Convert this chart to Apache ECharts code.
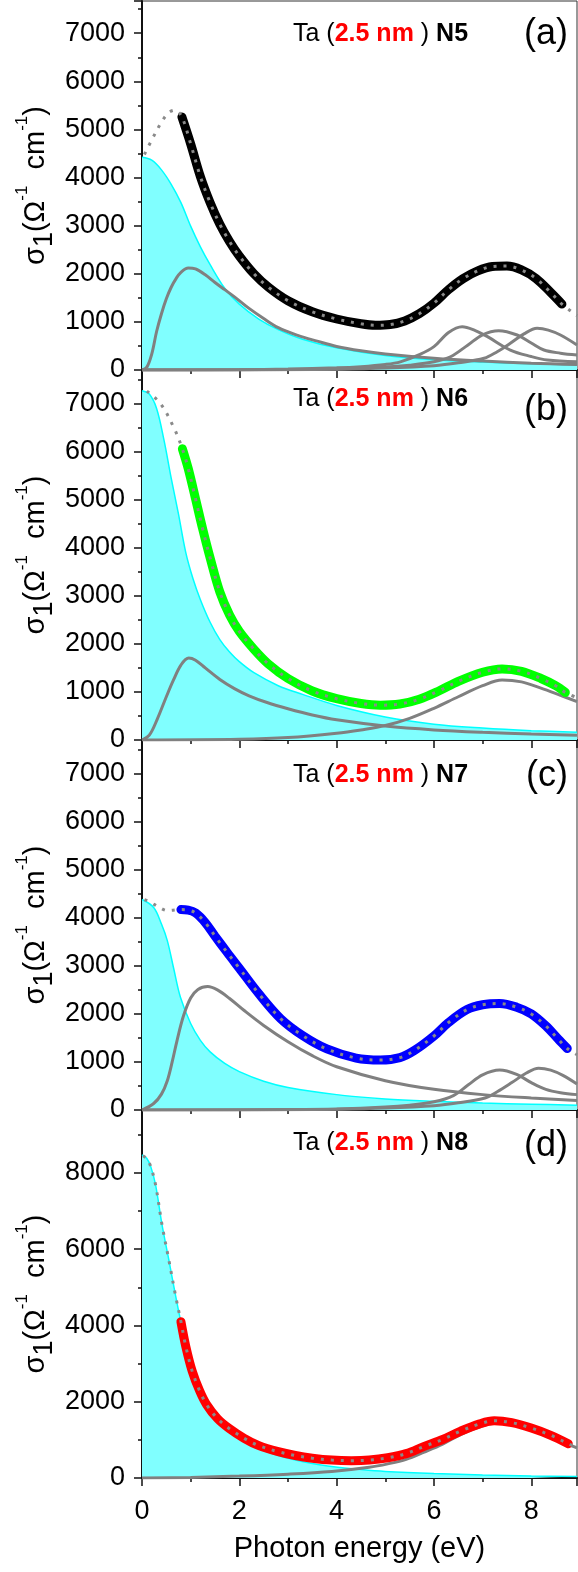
<!DOCTYPE html>
<html><head><meta charset="utf-8">
<script src="https://cdn.jsdelivr.net/npm/echarts@6/dist/echarts.min.js"></script>
<style>html,body{margin:0;padding:0;background:#fff}#c{width:578px;height:1572px}</style>
</head><body><div id="c"></div>
<script>
// ---------- Panel (a) N5 ----------
const aDrudeE = [0, 0.2, 0.4, 0.6, 0.8, 1.0, 1.2, 1.4, 1.7, 2.0, 2.4, 2.8, 3.3, 4, 5, 6, 7, 8, 8.94];
const aDrudeV = [4420, 4360, 4160, 3860, 3480, 2990, 2560, 2190, 1700, 1370, 1060, 840, 640, 460, 300, 215, 165, 130, 110];
const aL1E = [0, 0.1, 0.2, 0.3, 0.4, 0.5, 0.6, 0.7, 0.8, 0.95, 1.1, 1.3, 1.5, 1.7, 1.9, 2.2, 2.5, 2.8, 3.2, 3.6, 4, 4.5, 5, 6, 7, 8, 8.94];
const aL1V = [0, 60, 330, 800, 1170, 1480, 1720, 1900, 2030, 2120, 2100, 1980, 1820, 1670, 1520, 1280, 1070, 880, 720, 600, 490, 400, 335, 245, 185, 140, 115];
const aL2E = [0, 2, 3, 4, 4.5, 5, 5.31, 5.7, 6.0, 6.3, 6.58, 6.85, 7.1, 7.57, 8, 8.33, 8.94];
const aL2V = [0, 5, 20, 45, 70, 115, 170, 320, 485, 780, 900, 820, 693, 415, 280, 208, 170];
const aL3E = [0, 3, 4, 5, 5.5, 6, 6.34, 6.7, 6.99, 7.33, 7.71, 8, 8.26, 8.6, 8.94];
const aL3V = [0, 8, 20, 60, 100, 170, 275, 520, 727, 817, 727, 560, 415, 350, 312];
const aL4E = [0, 3, 4, 5, 6, 6.5, 7.03, 7.3, 7.57, 7.85, 8.12, 8.35, 8.6, 8.94];
const aL4V = [0, 5, 15, 40, 90, 150, 243, 380, 555, 750, 866, 830, 727, 520];
const aDataE = [0.82, 1.0, 1.2, 1.4, 1.6, 1.8, 2.0, 2.3, 2.6, 3.0, 3.5, 4.0, 4.5, 4.8, 5.1, 5.4, 5.7, 6.0, 6.3, 6.6, 6.9, 7.2, 7.5, 7.8, 8.1, 8.4, 8.63];
const aDataV = [5260, 4700, 4020, 3480, 3030, 2670, 2370, 2000, 1720, 1440, 1210, 1060, 960, 930, 945, 1020, 1170, 1390, 1670, 1900, 2060, 2150, 2160, 2080, 1900, 1610, 1370];
const aFitLoE = [0.05, 0.2, 0.4, 0.55, 0.68, 0.82];
const aFitLoV = [4480, 4780, 5150, 5350, 5400, 5260];
const aFitHiE = [8.63, 8.94];
const aFitHiV = [1370, 1130];

// ---------- Panel (b) N6 ----------
const bDrudeE = [0, 0.15, 0.3, 0.45, 0.6, 0.75, 0.9, 1.05, 1.2, 1.4, 1.6, 1.8, 2.0, 2.3, 2.8, 3.3, 4, 5, 6, 7, 8, 8.94];
const bDrudeV = [7270, 7200, 6900, 6250, 5450, 4700, 3900, 3350, 2920, 2450, 2090, 1830, 1630, 1400, 1130, 950, 720, 480, 330, 250, 195, 160];
const bL1E = [0, 0.15, 0.31, 0.5, 0.65, 0.8, 0.96, 1.1, 1.3, 1.6, 1.9, 2.2, 2.57, 3, 3.5, 4, 5, 6, 7, 8, 8.94];
const bL1V = [0, 100, 425, 900, 1255, 1560, 1705, 1660, 1500, 1260, 1070, 920, 780, 650, 520, 420, 290, 210, 160, 125, 100];
const bL2E = [0, 2, 3, 4, 4.5, 5, 5.5, 6, 6.5, 7, 7.4, 7.8, 8.2, 8.6, 8.94];
const bL2V = [0, 15, 50, 140, 210, 300, 450, 660, 900, 1130, 1250, 1210, 1080, 930, 800];
const bDataE = [0.83, 0.95, 1.1, 1.25, 1.4, 1.6, 1.8, 2.0, 2.3, 2.6, 3.0, 3.5, 4, 4.5, 4.9, 5.3, 5.7, 6.1, 6.5, 7, 7.4, 7.8, 8.2, 8.5, 8.7];
const bDataV = [6060, 5650, 5020, 4380, 3790, 3080, 2600, 2260, 1890, 1580, 1280, 1020, 860, 760, 725, 750, 850, 1020, 1220, 1410, 1480, 1430, 1280, 1130, 990];
const bFitLoE = [0.1, 0.38, 0.65, 0.83];
const bFitLoV = [7260, 7000, 6510, 6060];
const bFitHiE = [8.7, 8.94];
const bFitHiV = [990, 880];

// ---------- Panel (c) N7 ----------
const cDrudeE = [0, 0.24, 0.4, 0.52, 0.65, 0.79, 1.0, 1.2, 1.4, 1.7, 2, 2.5, 3, 4, 5, 6, 7, 8, 8.94];
const cDrudeV = [4380, 4215, 3870, 3525, 2950, 2345, 1800, 1450, 1210, 970, 800, 600, 470, 320, 230, 180, 145, 120, 100];
const cL1E = [0, 0.24, 0.4, 0.52, 0.62, 0.72, 0.85, 1.0, 1.15, 1.35, 1.55, 1.8, 2.1, 2.5, 3, 3.5, 4, 5, 6, 7, 8, 8.94];
const cL1V = [0, 135, 330, 610, 1000, 1445, 1950, 2330, 2510, 2570, 2500, 2320, 2070, 1760, 1420, 1130, 900, 610, 430, 320, 250, 200];
const cL2E = [0, 3, 4, 5, 5.5, 6, 6.4, 6.7, 7.0, 7.35, 7.7, 8, 8.3, 8.6, 8.94];
const cL2V = [0, 8, 20, 60, 100, 170, 300, 520, 730, 830, 740, 570, 430, 360, 320];
const cL3E = [0, 3, 4, 5, 6, 6.5, 7.05, 7.3, 7.6, 7.9, 8.15, 8.4, 8.65, 8.94];
const cL3V = [0, 5, 15, 40, 90, 150, 250, 380, 570, 770, 870, 830, 720, 540];
const cDataE = [0.8, 0.95, 1.1, 1.3, 1.5, 1.75, 2, 2.4, 2.85, 3.3, 3.8, 4.4, 4.9, 5.3, 5.6, 6.0, 6.3, 6.68, 7.0, 7.35, 7.7, 8.0, 8.3, 8.55, 8.74];
const cDataV = [4170, 4160, 4100, 3900, 3620, 3280, 2950, 2420, 1900, 1550, 1270, 1080, 1040, 1090, 1240, 1540, 1820, 2090, 2190, 2215, 2140, 2000, 1750, 1480, 1280];
const cFitLoE = [0.05, 0.18, 0.35, 0.52, 0.8];
const cFitLoV = [4380, 4320, 4220, 4150, 4170];
const cFitHiE = [8.74, 8.94];
const cFitHiV = [1280, 1150];

// ---------- Panel (d) N8 ----------
const dDrudeE = [0, 0.1, 0.18, 0.28, 0.41, 0.55, 0.69, 0.8, 0.9, 1.03, 1.18, 1.33, 1.55, 1.79, 2.1, 2.39, 2.8, 3.15, 3.5, 3.9, 4.5, 5, 6, 7, 8, 8.94];
const dDrudeV = [8470, 8380, 8165, 7680, 6650, 5730, 4780, 4080, 3450, 2790, 2280, 1880, 1500, 1230, 980, 780, 590, 470, 380, 300, 220, 170, 115, 80, 55, 40];
const dL1E = [0, 1, 2, 3, 3.9, 4.67, 5.05, 5.43, 5.8, 6.18, 6.55, 6.94, 7.25, 7.6, 8, 8.5, 8.94];
const dL1V = [0, 15, 50, 100, 170, 280, 370, 490, 680, 890, 1140, 1340, 1435, 1400, 1250, 1010, 790];
const dDataE = [0.8, 0.9, 1.03, 1.18, 1.33, 1.55, 1.79, 2.1, 2.39, 2.8, 3.15, 3.5, 3.9, 4.3, 4.67, 5.05, 5.43, 5.8, 6.18, 6.55, 6.94, 7.24, 7.6, 8.0, 8.4, 8.76];
const dDataV = [4100, 3450, 2810, 2300, 1920, 1560, 1300, 1040, 855, 690, 590, 520, 470, 455, 470, 530, 640, 830, 1010, 1230, 1420, 1500, 1450, 1310, 1120, 900];
const dFitLoE = [0.02, 0.1, 0.18, 0.28, 0.41, 0.55, 0.69, 0.8];
const dFitLoV = [8450, 8370, 8165, 7680, 6650, 5730, 4780, 4100];
const dFitHiE = [8.76, 8.94];
const dFitHiV = [900, 800];

// ---------- axes / text ----------
const xTickLabels = ['0', '2', '4', '6', '8'];
const panelYMax = [7670, 7700, 7700, 9650];
const panelYStep = [1000, 1000, 1000, 2000];
const sampleNames = ['N5', 'N6', 'N7', 'N8'];
const panelLetters = ['(a)', '(b)', '(c)', '(d)'];
const dataColors = ['#000000', '#00FF00', '#0000FF', '#FF0000'];
const xTitle = 'Photon energy (eV)';

const FONT = '"Liberation Sans", Arial, Helvetica, sans-serif';
const pts = (E, V) => E.map((e, i) => [e, V[i]]);
const SM = 0.35;

const panels = [
  {drude: [aDrudeE, aDrudeV], lor: [[aL1E, aL1V], [aL2E, aL2V], [aL3E, aL3V], [aL4E, aL4V]], data: [aDataE, aDataV], lo: [aFitLoE, aFitLoV], hi: [aFitHiE, aFitHiV]},
  {drude: [bDrudeE, bDrudeV], lor: [[bL1E, bL1V], [bL2E, bL2V]], data: [bDataE, bDataV], lo: [bFitLoE, bFitLoV], hi: [bFitHiE, bFitHiV]},
  {drude: [cDrudeE, cDrudeV], lor: [[cL1E, cL1V], [cL2E, cL2V], [cL3E, cL3V]], data: [cDataE, cDataV], lo: [cFitLoE, cFitLoV], hi: [cFitHiE, cFitHiV]},
  {drude: [dDrudeE, dDrudeV], lor: [[dL1E, dL1V]], data: [dDataE, dDataV], lo: [dFitLoE, dFitLoV], hi: [dFitHiE, dFitHiV]}
];

const tops = [1, 370, 740, 1110];
const heights = [369, 370, 370, 368];
const textOff = [33, 29, 35, 33];
const letterOff = [33, 40, 36, 36];
const LEFT = 142, WIDTH = 435;

const grid = [], xAxis = [], yAxis = [], series = [], graphic = [];
panels.forEach((p, i) => {
  grid.push({left: LEFT, width: WIDTH, top: tops[i], height: heights[i], show: true, borderColor: '#333', borderWidth: 1, backgroundColor: 'transparent'});
  xAxis.push({
    gridIndex: i, type: 'value', min: 0, max: 8.94, interval: 2,
    axisLine: {onZero: false, lineStyle: {color: '#111', width: 2}},
    axisTick: {length: 8, lineStyle: {color: '#111', width: 1.5}},
    minorTick: {show: true, splitNumber: 2, length: 4, lineStyle: {color: '#111', width: 1.5}},
    splitLine: {show: false},
    axisLabel: {show: i === 3, fontSize: 27, color: '#000', fontFamily: FONT, margin: 20, showMaxLabel: false,
      formatter: v => xTickLabels[Math.round(v / 2)] ?? ''},
    name: i === 3 ? xTitle : '', nameLocation: 'middle', nameGap: 56,
    nameTextStyle: {fontSize: 29, color: '#000', fontFamily: FONT}
  });
  yAxis.push({
    gridIndex: i, type: 'value', min: 0, max: panelYMax[i], interval: panelYStep[i],
    axisLine: {show: true, lineStyle: {color: '#111', width: 2}},
    axisTick: {length: 8, lineStyle: {color: '#111', width: 1.5}},
    minorTick: {show: true, splitNumber: 2, length: 4, lineStyle: {color: '#111', width: 1.5}},
    splitLine: {show: false},
    axisLabel: {fontSize: 27, color: '#000', fontFamily: FONT, margin: 17, showMaxLabel: false,
      formatter: v => String(Math.round(v))}
  });
  series.push({type: 'line', xAxisIndex: i, yAxisIndex: i, data: pts(...p.drude), smooth: SM, showSymbol: false, z: 1,
    lineStyle: {color: '#00FFFF', width: 1.5}, areaStyle: {color: '#80FFFF', opacity: 1}});
  p.lor.forEach(l => series.push({type: 'line', xAxisIndex: i, yAxisIndex: i, data: pts(...l), smooth: SM, showSymbol: false, z: 2,
    lineStyle: {color: '#808080', width: 3}}));
  series.push({type: 'line', xAxisIndex: i, yAxisIndex: i, data: pts(...p.data), smooth: SM, showSymbol: false, z: 3,
    lineStyle: {color: dataColors[i], width: 9, cap: 'round'}});
  const fitPts = pts(...p.lo).concat(pts(...p.data).slice(1, -1), pts(...p.hi));
  series.push({type: 'line', xAxisIndex: i, yAxisIndex: i, data: fitPts, smooth: SM, showSymbol: false, z: 4,
    lineStyle: {color: '#8a8a8a', width: 3, type: [3, 7]}});
  graphic.push({type: 'text', x: 293, y: tops[i] + textOff[i], z: 10, style: {
    text: '{n|Ta (}{r|2.5 nm}{n| ) }{b|' + sampleNames[i] + '}', align: 'left', verticalAlign: 'middle',
    rich: {n: {fontSize: 25, fontFamily: FONT, fill: '#000'}, r: {fontSize: 25, fontFamily: FONT, fill: '#FF0000', fontWeight: 'bold'}, b: {fontSize: 25, fontFamily: FONT, fill: '#000', fontWeight: 'bold'}}
  }});
  graphic.push({type: 'text', x: 568, y: tops[i] + letterOff[i], z: 10, style: {text: panelLetters[i], align: 'right', verticalAlign: 'middle', fontSize: 36, fontFamily: FONT, fill: '#000'}});
  graphic.push({type: 'text', x: 36, y: tops[i] + heights[i] / 2, rotation: Math.PI / 2, z: 10, style: {
    text: '{n|σ}{sub|1}{n|(Ω}{sup|-1}{n|  cm}{sup|-1}{n|)}', align: 'center', verticalAlign: 'middle',
    rich: {
      n: {fontSize: 29, fontFamily: FONT, fill: '#000', lineHeight: 44, verticalAlign: 'middle'},
      sub: {fontSize: 27, fontFamily: FONT, fill: '#000', lineHeight: 30, verticalAlign: 'bottom'},
      sup: {fontSize: 17, fontFamily: FONT, fill: '#000', lineHeight: 18, verticalAlign: 'top'}
    }
  }});
});

const chart = echarts.init(document.getElementById('c'), null, {renderer: 'canvas'});
chart.setOption({animation: false, backgroundColor: '#fff', grid, xAxis, yAxis, series, graphic});
</script></body></html>
